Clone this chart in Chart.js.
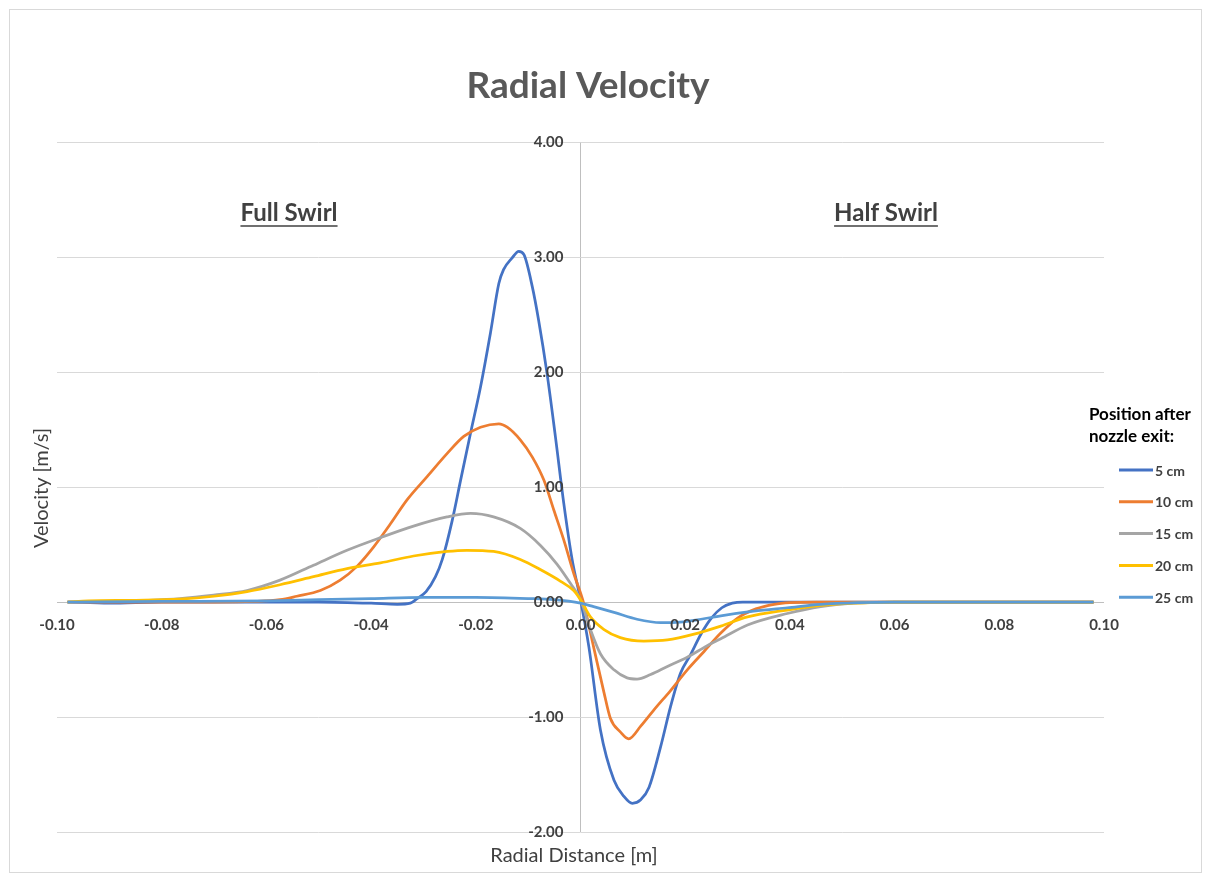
<!DOCTYPE html>
<html>
<head>
<meta charset="utf-8">
<title>Radial Velocity</title>
<script src="https://cdn.jsdelivr.net/npm/chart.js@4.4.1/dist/chart.umd.min.js"></script>
<style>
  html, body { margin: 0; padding: 0; background: #ffffff; }
  canvas { display: block; }
</style>
</head>
<body>
<canvas id="chart" width="1212" height="875"></canvas>
<script>
// Series labels and colours (position after nozzle exit)
const seriesNames = ['5 cm', '10 cm', '15 cm', '20 cm', '25 cm'];
const seriesColors = ['#4472C4', '#ED7D31', '#A5A5A5', '#FFC000', '#5B9BD5'];

// Axis tick values
const xTickValues = [-0.10, -0.08, -0.06, -0.04, -0.02, 0.00, 0.02, 0.04, 0.06, 0.08, 0.10];
const yTickValues = [-2, -1, 0, 1, 2, 3, 4];

// 5 cm: radial distance [m] and radial velocity [m/s]
const r5 = [-0.098, -0.09, -0.08, -0.07, -0.06, -0.05, -0.04, -0.035, -0.0325, -0.0312, -0.0295, -0.0277, -0.0264, -0.0245, -0.0229, -0.021, -0.0191, -0.0172, -0.0156, -0.0147, -0.0131, -0.0118, -0.0108, -0.0092, -0.008, -0.0064, -0.0048, -0.0032, -0.0016, 0, 0.0016, 0.0038, 0.0064, 0.0083, 0.0099, 0.0115, 0.0131, 0.0153, 0.0172, 0.0191, 0.021, 0.023, 0.025, 0.027, 0.029, 0.031, 0.034, 0.04, 0.05, 0.06, 0.07, 0.08, 0.09, 0.098];
const v5 = [0, -0.01, 0, 0, 0, 0, -0.01, -0.02, -0.01, 0.03, 0.09, 0.22, 0.37, 0.71, 1.06, 1.47, 1.87, 2.34, 2.77, 2.89, 2.99, 3.05, 3.02, 2.74, 2.45, 1.99, 1.44, 0.86, 0.37, 0.02, -0.39, -1.11, -1.55, -1.69, -1.75, -1.72, -1.61, -1.26, -0.91, -0.62, -0.46, -0.28, -0.14, -0.05, -0.01, 0, 0, 0, 0, 0, 0, 0, 0, 0];

// 10 cm
const r10 = [-0.098, -0.09, -0.08, -0.07, -0.0625, -0.0574, -0.0542, -0.0497, -0.0459, -0.0427, -0.0395, -0.0363, -0.0331, -0.0293, -0.0255, -0.0223, -0.0191, -0.0156, -0.014, -0.0115, -0.0092, -0.007, -0.0051, -0.0032, -0.0013, 0.0006, 0.0025, 0.0045, 0.0057, 0.0076, 0.0092, 0.0115, 0.014, 0.0172, 0.0204, 0.0236, 0.0268, 0.030, 0.0335, 0.037, 0.040, 0.045, 0.05, 0.06, 0.07, 0.08, 0.09, 0.098];
const v10 = [0, 0, 0, 0, 0.005, 0.02, 0.05, 0.10, 0.19, 0.31, 0.48, 0.68, 0.89, 1.09, 1.29, 1.44, 1.52, 1.55, 1.52, 1.41, 1.26, 1.06, 0.80, 0.54, 0.25, -0.01, -0.39, -0.79, -1.01, -1.13, -1.19, -1.08, -0.94, -0.77, -0.59, -0.43, -0.27, -0.14, -0.06, -0.02, -0.005, 0, 0, 0, 0, 0, 0, 0];

// 15 cm
const r15 = [-0.098, -0.09, -0.0825, -0.0765, -0.0701, -0.0637, -0.0574, -0.051, -0.0446, -0.0382, -0.0319, -0.0255, -0.021, -0.0166, -0.0115, -0.0076, -0.0045, -0.0019, 0, 0.0019, 0.0038, 0.0064, 0.0089, 0.0108, 0.0134, 0.0166, 0.0204, 0.0242, 0.0268, 0.0319, 0.0395, 0.0459, 0.0522, 0.06, 0.07, 0.08, 0.09, 0.098];
const v15 = [0, 0.005, 0.015, 0.03, 0.06, 0.10, 0.19, 0.32, 0.45, 0.56, 0.66, 0.74, 0.77, 0.74, 0.64, 0.49, 0.33, 0.16, 0.02, -0.24, -0.45, -0.59, -0.66, -0.67, -0.63, -0.56, -0.48, -0.38, -0.32, -0.20, -0.10, -0.04, -0.01, 0, 0, 0, 0, 0];

// 20 cm
const r20 = [-0.098, -0.094, -0.085, -0.0765, -0.07, -0.0637, -0.0574, -0.051, -0.0446, -0.0382, -0.0319, -0.0255, -0.0217, -0.0166, -0.0115, -0.0076, -0.0038, -0.0013, 0, 0.0019, 0.0045, 0.0076, 0.0121, 0.0166, 0.0217, 0.0268, 0.0319, 0.0395, 0.0459, 0.0522, 0.06, 0.07, 0.08, 0.09, 0.098];
const v20 = [0, 0.01, 0.015, 0.025, 0.05, 0.09, 0.15, 0.22, 0.29, 0.34, 0.40, 0.44, 0.45, 0.44, 0.37, 0.28, 0.18, 0.10, 0.02, -0.13, -0.24, -0.31, -0.34, -0.33, -0.28, -0.21, -0.13, -0.07, -0.03, -0.01, 0, 0, 0, 0, 0];

// 25 cm
const r25 = [-0.098, -0.08, -0.06, -0.05, -0.04, -0.03, -0.02, -0.01, -0.005, 0, 0.0025, 0.0064, 0.0108, 0.0153, 0.019, 0.023, 0.0268, 0.0331, 0.0395, 0.0459, 0.053, 0.06, 0.07, 0.08, 0.09, 0.098];
const v25 = [0, 0.005, 0.01, 0.02, 0.03, 0.04, 0.04, 0.03, 0.02, -0.01, -0.04, -0.09, -0.15, -0.18, -0.175, -0.15, -0.12, -0.08, -0.05, -0.02, -0.005, 0, 0, 0, 0, 0];

const radii = [r5, r10, r15, r20, r25];
const velocities = [v5, v10, v15, v20, v25];

const FONT = 'Lato, "Open Sans", "Liberation Sans", sans-serif';

function toPoints(rs, vs) {
  const n = Math.min(rs.length, vs.length);
  const pts = [];
  for (let i = 0; i < n; i++) pts.push({ x: rs[i], y: vs[i] });
  return pts;
}

const datasets = seriesNames.map((name, i) => ({
  label: name,
  data: toPoints(radii[i], velocities[i]),
  borderColor: seriesColors[i],
  backgroundColor: seriesColors[i],
  borderWidth: 2.75,
  pointRadius: 0,
  pointHoverRadius: 0,
  showLine: true,
  fill: false,
  cubicInterpolationMode: 'monotone',
  order: seriesNames.length - i   // later series are painted on top
}));

// Text, tick labels, legend and frame painted around the plot area
const decorations = {
  id: 'decorations',
  afterDraw(chart) {
    const { ctx, scales: { x, y } } = chart;
    ctx.save();

    // outer frame
    ctx.strokeStyle = '#d9d9d9';
    ctx.lineWidth = 1;
    ctx.strokeRect(9.5, 9.5, 1192, 863);

    // title
    ctx.fillStyle = '#595959';
    ctx.font = 'bold 37px ' + FONT;
    ctx.textAlign = 'center';
    ctx.textBaseline = 'middle';
    ctx.fillText('Radial Velocity', 588, 86);

    // tick labels, placed along the axes that cross at the origin
    const x0 = x.getPixelForValue(0);
    const y0 = y.getPixelForValue(0);
    ctx.fillStyle = '#404040';
    ctx.font = 'bold 15px ' + FONT;
    ctx.textAlign = 'right';
    ctx.textBaseline = 'middle';
    y.ticks.forEach(t => ctx.fillText(t.value.toFixed(2), x0 - 17, y.getPixelForValue(t.value)));
    ctx.textAlign = 'center';
    x.ticks.forEach(t => ctx.fillText(t.value.toFixed(2), x.getPixelForValue(t.value), y0 + 23));

    // axis titles
    ctx.font = '20px ' + FONT;
    ctx.fillStyle = '#404040';
    ctx.fillText('Radial Distance [m]', 574, 856);
    ctx.save();
    ctx.translate(42, 488);
    ctx.rotate(-Math.PI / 2);
    ctx.fillText('Velocity [m/s]', 0, 0);
    ctx.restore();

    // region captions (underlined)
    ctx.font = 'bold 24px ' + FONT;
    ctx.fillStyle = '#404040';
    ctx.strokeStyle = '#404040';
    ctx.lineWidth = 1.5;
    [['Full Swirl', 289], ['Half Swirl', 886]].forEach(([txt, cx]) => {
      ctx.fillText(txt, cx, 213);
      const w = ctx.measureText(txt).width;
      ctx.beginPath();
      ctx.moveTo(cx - w / 2, 226);
      ctx.lineTo(cx + w / 2, 226);
      ctx.stroke();
    });

    // legend
    ctx.textAlign = 'left';
    ctx.fillStyle = '#000000';
    ctx.font = 'bold 17px ' + FONT;
    ctx.fillText('Position after', 1089, 415);
    ctx.fillText('nozzle exit:', 1089, 437);
    ctx.font = 'bold 14px ' + FONT;
    chart.data.datasets.forEach((ds, i) => {
      const ly = 470 + i * 31.8;
      ctx.strokeStyle = ds.borderColor;
      ctx.lineWidth = 3;
      ctx.beginPath();
      ctx.moveTo(1119, ly);
      ctx.lineTo(1153, ly);
      ctx.stroke();
      ctx.fillStyle = '#404040';
      ctx.fillText(ds.label, 1155, ly + 1);
    });

    ctx.restore();
  }
};

new Chart(document.getElementById('chart'), {
  type: 'scatter',
  data: { datasets },
  options: {
    responsive: false,
    animation: false,
    events: [],
    layout: { padding: { left: 57, right: 108, top: 142, bottom: 43 } },
    plugins: {
      legend: { display: false },
      title: { display: false },
      tooltip: { enabled: false }
    },
    scales: {
      x: {
        type: 'linear',
        min: xTickValues[0],
        max: xTickValues[xTickValues.length - 1],
        afterBuildTicks: s => { s.ticks = xTickValues.map(v => ({ value: v })); },
        ticks: { display: false },
        border: { display: false },
        grid: {
          drawTicks: false,
          lineWidth: 1,
          color: c => (c.tick && Math.abs(c.tick.value) < 1e-9) ? '#bfbfbf' : 'rgba(0,0,0,0)'
        }
      },
      y: {
        type: 'linear',
        min: yTickValues[0],
        max: yTickValues[yTickValues.length - 1],
        afterBuildTicks: s => { s.ticks = yTickValues.map(v => ({ value: v })); },
        ticks: { display: false },
        border: { display: false },
        grid: {
          drawTicks: false,
          lineWidth: 1,
          color: c => (c.tick && Math.abs(c.tick.value) < 1e-9) ? '#bfbfbf' : '#d9d9d9'
        }
      }
    }
  },
  plugins: [decorations]
});
</script>
</body>
</html>
